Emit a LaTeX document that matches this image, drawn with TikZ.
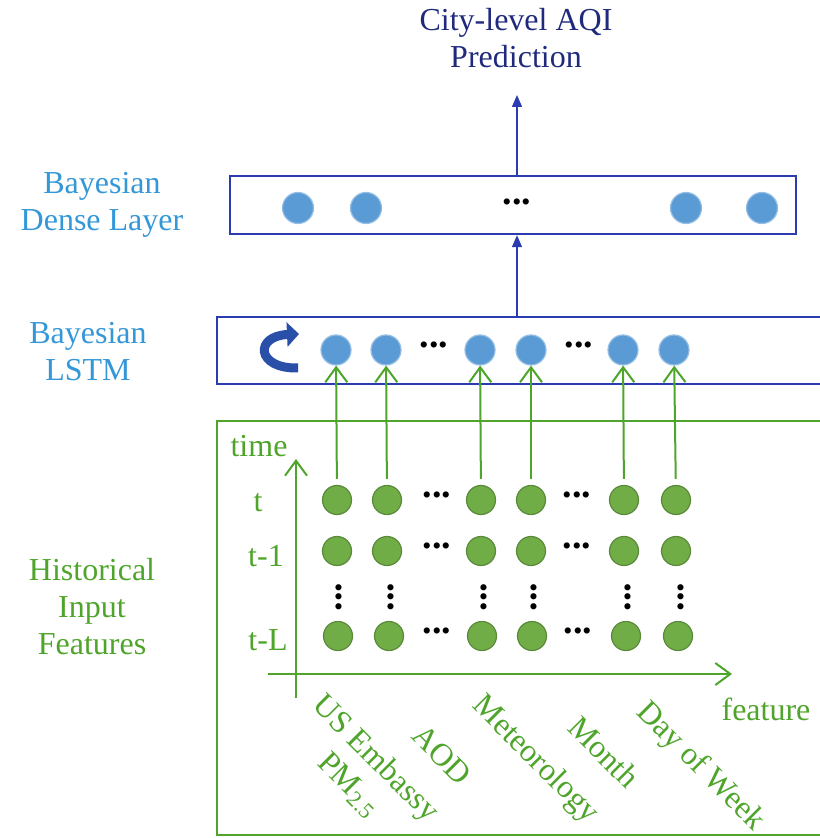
\documentclass[tikz,border=0pt]{standalone}
\usepackage{fontspec}
\setmainfont{Liberation Serif}
\usetikzlibrary{arrows.meta}
\usetikzlibrary{positioning}

\definecolor{navy}{HTML}{1F2A7C}
\definecolor{boxblue}{HTML}{2B3BB0}
\definecolor{skyblue}{HTML}{3497D8}
\definecolor{cellblue}{HTML}{5B9BD5}
\definecolor{cellgreen}{HTML}{70AD47}
\definecolor{leafgreen}{HTML}{4FA52B}
\definecolor{loopblue}{HTML}{2A4FA8}

\tikzset{
  lbl/.style={font=\fontsize{16}{18.5}\selectfont, align=center, inner sep=0pt},
  bluecell/.style={circle, fill=cellblue, draw=cellblue!65!white, line width=0.6pt, minimum size=15pt, inner sep=0pt},
  greencell/.style={circle, fill=cellgreen, draw=cellgreen!80!black, line width=0.6pt, minimum size=14.5pt, inner sep=0pt},
  dotsrow/.style={font=\fontsize{19}{20}\selectfont\bfseries, inner sep=0pt},
  dotscol/.style={dotsrow, rotate=90},
  feed/.style={draw=leafgreen, line width=1pt, shorten <=3pt, -{Straight Barb[length=7.5pt, width=11pt]}},
  axis/.style={draw=leafgreen, line width=1pt, -{Straight Barb[length=7.5pt, width=11pt]}},
  up/.style={draw=boxblue, line width=0.7pt, -{Triangle[length=6pt, width=5pt]}},
}

\begin{document}
\begin{tikzpicture}[x=0.5pt, y=-0.5pt]
    \useasboundingbox (0,0) rectangle (819,838);

    % output
    \node [lbl, text=navy] (out) at (516, 38) {City-level AQI\\Prediction};
    \coordinate (outtip) at (517, 95);

    % dense layer
    \node [lbl, text=skyblue] (denselbl) at (102, 205) {Bayesian\\Dense Layer};
    \node [draw=boxblue, line width=1.2pt, minimum width=283pt, minimum height=29pt, inner sep=0pt] (dense) at (513, 205) {};
    \node [bluecell, minimum size=15.5pt] (d1) at (298, 208) {};
    \node [bluecell, minimum size=15.5pt] (d2) at (366, 208) {};
    \node [dotsrow] (ddots) at (517, 202) {...};
    \node [bluecell, minimum size=15.5pt] (d3) at (686, 208) {};
    \node [bluecell, minimum size=15.5pt] (d4) at (762, 208) {};
    \draw [up] (dense.north -| outtip) -- (outtip);

    % lstm layer
    \node [lbl, text=skyblue] (lstmlbl) at (88, 352) {Bayesian\\LSTM};
    \draw [boxblue, line width=1.2pt] (822, 317) -- (217, 317) -- (217, 384) -- (822, 384);
    \coordinate (lstmtop) at (517, 317);
    \draw [up] (lstmtop) -- (dense.south -| lstmtop);
    \draw [loopblue, line width=4.5pt, -{Triangle[length=6pt, width=12pt]}] (298, 368) .. controls (256, 369) and (254, 336) .. (299, 334);
    \node [bluecell] (l1) at (336, 350) {};
    \node [bluecell] (l2) at (386, 350) {};
    \node [dotsrow] (ldots1) at (434, 345) {...};
    \node [bluecell] (l3) at (480, 350) {};
    \node [bluecell] (l4) at (531, 350) {};
    \node [dotsrow] (ldots2) at (579, 345) {...};
    \node [bluecell] (l5) at (623, 350) {};
    \node [bluecell] (l6) at (674, 350) {};

    % input features
    \node [lbl, text=leafgreen] (inlbl) at (92, 607) {Historical\\Input\\Features};
    \draw [leafgreen, line width=1pt] (822, 421) -- (217, 421) -- (217, 835) -- (822, 835);

    \coordinate (tbase) at (296, 698);
    \coordinate (ttip) at (296, 459);
    \coordinate (fbase) at (268, 674);
    \coordinate (ftip) at (732, 674);
    \draw [axis] (tbase) -- (ttip);
    \draw [axis] (fbase) -- (ftip);
    \node [lbl, text=leafgreen] (timelbl) at (259, 446) {time};
    \node [lbl, text=leafgreen] (featlbl) at (766, 709) {feature};

    \node [lbl, text=leafgreen] (rowt) at (258, 503) {t};
    \node [lbl, text=leafgreen] (rowt1) at (266, 556) {t-1};
    \node [lbl, text=leafgreen] (rowtl) at (268, 640) {t-L};

    % row t
    \node [greencell] (g11) at (337, 500) {};
    \node [greencell] (g12) at (387, 500) {};
    \node [dotsrow] (gdots11) at (437, 495) {...};
    \node [greencell] (g13) at (481, 500) {};
    \node [greencell] (g14) at (531, 500) {};
    \node [dotsrow] (gdots12) at (577, 495) {...};
    \node [greencell] (g15) at (624, 500) {};
    \node [greencell] (g16) at (676, 500) {};
    % row t-1
    \node [greencell] (g21) at (337, 551) {};
    \node [greencell] (g22) at (387, 551) {};
    \node [dotsrow] (gdots21) at (437, 546) {...};
    \node [greencell] (g23) at (481, 551) {};
    \node [greencell] (g24) at (531, 551) {};
    \node [dotsrow] (gdots22) at (577, 546) {...};
    \node [greencell] (g25) at (624, 551) {};
    \node [greencell] (g26) at (676, 551) {};
    % skipped rows
    \node [dotscol] (vd1) at (339, 597) {...};
    \node [dotscol] (vd2) at (391, 597) {...};
    \node [dotscol] (vd3) at (484, 597) {...};
    \node [dotscol] (vd4) at (534, 597) {...};
    \node [dotscol] (vd5) at (628, 597) {...};
    \node [dotscol] (vd6) at (681, 597) {...};
    % row t-L
    \node [greencell] (g31) at (338, 636) {};
    \node [greencell] (g32) at (389, 636) {};
    \node [dotsrow] (gdots31) at (437, 631) {...};
    \node [greencell] (g33) at (482, 636) {};
    \node [greencell] (g34) at (532, 636) {};
    \node [dotsrow] (gdots32) at (578, 631) {...};
    \node [greencell] (g35) at (626, 636) {};
    \node [greencell] (g36) at (678, 636) {};

    \draw [feed] (g11) -- (l1);
    \draw [feed] (g12) -- (l2);
    \draw [feed] (g13) -- (l3);
    \draw [feed] (g14) -- (l4);
    \draw [feed] (g15) -- (l5);
    \draw [feed] (g16) -- (l6);

    % feature names
    \node [lbl, text=leafgreen, rotate=-45] (fus) at (362, 772) {US Embassy\\PM\textsubscript{2.5}};
    \node [lbl, text=leafgreen, rotate=-45] (faod) at (442, 755) {AOD};
    \node [lbl, text=leafgreen, rotate=-45] (fmet) at (535, 760) {Meteorology};
    \node [lbl, text=leafgreen, rotate=-45] (fmon) at (604, 752) {Month};
    \node [lbl, text=leafgreen, rotate=-45] (fday) at (700, 767) {Day of Week};
\end{tikzpicture}
\end{document}
